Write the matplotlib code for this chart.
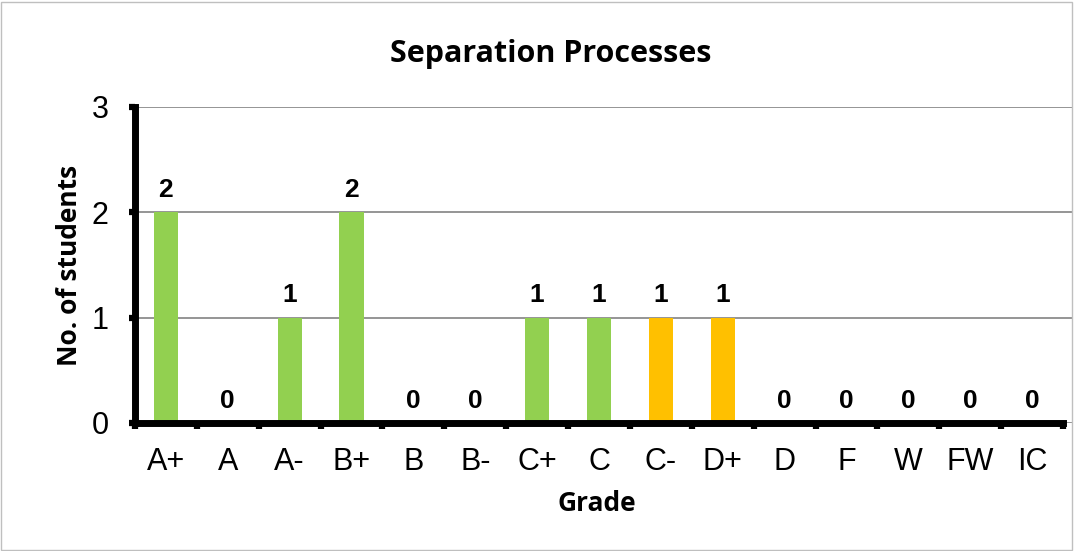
import matplotlib.pyplot as plt
from matplotlib.patches import Rectangle

grades = ["A+", "A", "A-", "B+", "B", "B-", "C+", "C", "C-", "D+", "D", "F", "W", "FW", "IC"]
students = [2, 0, 1, 2, 0, 0, 1, 1, 1, 1, 0, 0, 0, 0, 0]
bar_colors = ["#92D050"] * 8 + ["#FFC000"] * 2 + ["#92D050"] * 5

W, H = 1075, 551
fig = plt.figure(figsize=(W / 100, H / 100), dpi=100)
ax = fig.add_axes([135 / W, 1 - 423 / H, (1072 - 135) / W, (423 - 107) / H])

x = list(range(len(grades)))
ax.bar(x, students, width=0.39, color=bar_colors, zorder=2)
for xi, v in zip(x, students):
    ax.annotate(str(v), (xi, v), xytext=(0, 7.5), textcoords="offset points",
                ha="center", va="bottom", fontsize=19, fontweight="bold",
                family="Liberation Sans")

step = (1063 - 135) / 15
ax.set_xlim(-0.5, -0.5 + (1072 - 135) / step)
ax.set_ylim(0, 3)
ax.set_yticks([0, 1, 2, 3])
ax.set_xticks([i - 0.5 for i in range(16)])
ax.set_xticklabels([])
ax.set_xticks(x, minor=True)
ax.set_xticklabels(grades, minor=True, fontsize=22, family="Liberation Sans")
ax.tick_params(axis="x", which="minor", length=0, pad=17)
ax.tick_params(axis="x", which="major", length=4, width=4.5, direction="out")
ax.tick_params(axis="y", length=4, width=4.5, direction="out", labelsize=22, pad=15)
for lab in ax.get_yticklabels():
    lab.set_family("Liberation Sans")

ax.grid(axis="y", color="#8c8c8c", lw=1.3, zorder=0)
ax.spines["top"].set_visible(False)
ax.spines["right"].set_visible(False)
ax.spines["left"].set_linewidth(5)
ax.spines["bottom"].set_linewidth(5)
ax.spines["bottom"].set_bounds(-0.5, 14.5)
ax.spines["left"].set_zorder(3)
ax.spines["bottom"].set_zorder(3)

ax.set_ylabel("No. of students", fontsize=19, fontweight="bold", family="Open Sans")
ax.yaxis.set_label_coords(83 / W, 1 - 265 / H, transform=fig.transFigure)
ax.set_xlabel("Grade", fontsize=19, fontweight="bold", family="Open Sans")
ax.xaxis.set_label_coords(597 / W, 1 - 490 / H, transform=fig.transFigure)
fig.text(551 / W, 1 - 54 / H, "Separation Processes", ha="center", va="center",
         fontsize=22, fontweight="bold", family="Open Sans")

fig.patches.append(Rectangle((1 / W, 1 / H), 1071 / W, 548 / H, transform=fig.transFigure,
                             fill=False, edgecolor="#bfbfbf", lw=1))

fig.savefig("out.png", dpi=100)
